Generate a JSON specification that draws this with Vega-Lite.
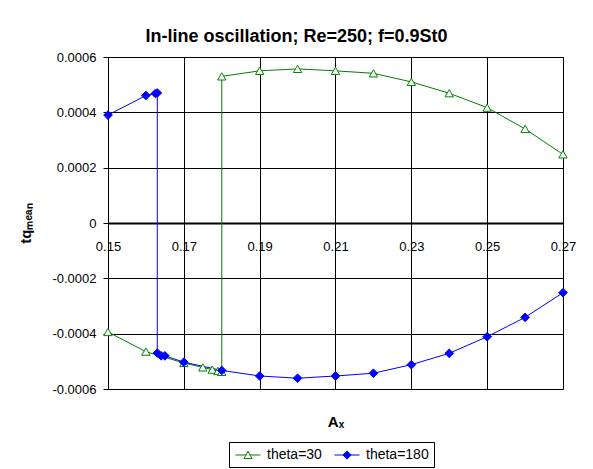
{
  "$schema": "https://vega.github.io/schema/vega-lite/v6.json",
  "width": 455,
  "height": 332,
  "autosize": {"type": "none"},
  "padding": {"left": 108, "top": 57, "right": 30, "bottom": 80},
  "background": "white",
  "title": {
    "text": "In-line oscillation; Re=250; f=0.9St0",
    "font": "Liberation Sans",
    "fontSize": 18,
    "fontWeight": "bold",
    "color": "black",
    "anchor": "middle",
    "baseline": "bottom",
    "offset": -13,
    "dx": -39
  },
  "config": {
    "view": {"stroke": "#808080", "strokeWidth": 1},
    "axis": {
      "labelFont": "Liberation Sans",
      "titleFont": "Liberation Sans",
      "labelColor": "black",
      "titleColor": "black",
      "gridColor": "black",
      "gridOpacity": 1,
      "gridWidth": 1
    }
  },
  "data": {
    "values": [
      {"series": "theta=30", "idx": 0, "Ax": 0.15, "tq": -0.000394},
      {"series": "theta=30", "idx": 1, "Ax": 0.16, "tq": -0.000465},
      {"series": "theta=30", "idx": 2, "Ax": 0.17, "tq": -0.000506},
      {"series": "theta=30", "idx": 3, "Ax": 0.175, "tq": -0.000522},
      {"series": "theta=30", "idx": 4, "Ax": 0.1775, "tq": -0.00053},
      {"series": "theta=30", "idx": 5, "Ax": 0.179, "tq": -0.000535},
      {"series": "theta=30", "idx": 6, "Ax": 0.18, "tq": -0.000538},
      {"series": "theta=30", "idx": 7, "Ax": 0.18, "tq": 0.00053},
      {"series": "theta=30", "idx": 8, "Ax": 0.19, "tq": 0.00055},
      {"series": "theta=30", "idx": 9, "Ax": 0.20, "tq": 0.000557},
      {"series": "theta=30", "idx": 10, "Ax": 0.21, "tq": 0.00055},
      {"series": "theta=30", "idx": 11, "Ax": 0.22, "tq": 0.000541},
      {"series": "theta=30", "idx": 12, "Ax": 0.23, "tq": 0.00051},
      {"series": "theta=30", "idx": 13, "Ax": 0.24, "tq": 0.000469},
      {"series": "theta=30", "idx": 14, "Ax": 0.25, "tq": 0.000417},
      {"series": "theta=30", "idx": 15, "Ax": 0.26, "tq": 0.00034},
      {"series": "theta=30", "idx": 16, "Ax": 0.27, "tq": 0.000248},
      {"series": "theta=180", "idx": 0, "Ax": 0.15, "tq": 0.00039},
      {"series": "theta=180", "idx": 1, "Ax": 0.16, "tq": 0.000461},
      {"series": "theta=180", "idx": 2, "Ax": 0.1625, "tq": 0.000468},
      {"series": "theta=180", "idx": 3, "Ax": 0.163, "tq": 0.00047},
      {"series": "theta=180", "idx": 4, "Ax": 0.163, "tq": -0.00047},
      {"series": "theta=180", "idx": 5, "Ax": 0.164, "tq": -0.00048},
      {"series": "theta=180", "idx": 6, "Ax": 0.165, "tq": -0.00048},
      {"series": "theta=180", "idx": 7, "Ax": 0.17, "tq": -0.000503},
      {"series": "theta=180", "idx": 8, "Ax": 0.18, "tq": -0.000533},
      {"series": "theta=180", "idx": 9, "Ax": 0.19, "tq": -0.000553},
      {"series": "theta=180", "idx": 10, "Ax": 0.20, "tq": -0.000561},
      {"series": "theta=180", "idx": 11, "Ax": 0.21, "tq": -0.000553},
      {"series": "theta=180", "idx": 12, "Ax": 0.22, "tq": -0.000543},
      {"series": "theta=180", "idx": 13, "Ax": 0.23, "tq": -0.000512},
      {"series": "theta=180", "idx": 14, "Ax": 0.24, "tq": -0.000471},
      {"series": "theta=180", "idx": 15, "Ax": 0.25, "tq": -0.000411},
      {"series": "theta=180", "idx": 16, "Ax": 0.26, "tq": -0.000341},
      {"series": "theta=180", "idx": 17, "Ax": 0.27, "tq": -0.000252}
    ]
  },
  "encoding": {
    "x": {
      "field": "Ax",
      "type": "quantitative",
      "scale": {"domain": [0.15, 0.27], "nice": false, "zero": false},
      "axis": {
        "orient": "bottom",
        "offset": -166,
        "values": [0.15, 0.17, 0.19, 0.21, 0.23, 0.25, 0.27],
        "format": ".2f",
        "labelFontSize": 13,
        "labelPadding": 17,
        "labelFlush": false,
        "ticks": false,
        "domainColor": "black",
        "domainWidth": 2,
        "title": "Aₓ",
        "titleFontSize": 15,
        "titleFontWeight": "bold",
        "titlePadding": 161
      }
    },
    "y": {
      "field": "tq",
      "type": "quantitative",
      "scale": {"domain": [-0.0006, 0.0006], "nice": false, "zero": false},
      "axis": {
        "values": [-0.0006, -0.0004, -0.0002, 0, 0.0002, 0.0004, 0.0006],
        "labelExpr": "replace(format(datum.value, '.4~f'), '−', '-')",
        "labelFontSize": 13,
        "labelPadding": 7,
        "tickSize": 5,
        "tickColor": "black",
        "domainColor": "black",
        "title": "tqₘₑₐₙ",
        "titleFontSize": 15,
        "titleFontWeight": "bold",
        "titlePadding": 18
      }
    },
    "stroke": {
      "field": "series",
      "type": "nominal",
      "scale": {"domain": ["theta=30", "theta=180"], "range": ["#008000", "#0000FF"]},
      "legend": {
        "title": null,
        "orient": "none",
        "legendX": 121,
        "legendY": 385,
        "direction": "horizontal",
        "strokeColor": "black",
        "padding": 5,
        "columnPadding": 10,
        "labelOffset": 11,
        "symbolOffset": 6,
        "labelFont": "Liberation Sans",
        "labelFontSize": 14,
        "labelColor": "black",
        "symbolSize": 225,
        "symbolStrokeWidth": 1,
        "encode": {
          "symbols": {
            "update": {
              "shape": {"signal": "datum.value === 'theta=30' ? 'M-1.667,0H-0.25M0.25,0H1.667M0,-0.47L0.533,0.47H-0.533Z' : 'M-1.667,0H1.667M-0.55,0L0,-0.55L0.55,0L0,0.55Z'"},
              "fill": {"signal": "datum.value === 'theta=30' ? 'white' : '#0000FF'"},
              "stroke": {"signal": "datum.value === 'theta=30' ? '#008000' : '#0000FF'"},
              "size": {"value": 225},
              "strokeWidth": {"value": 1},
              "opacity": {"value": 1}
            }
          }
        }
      }
    }
  },
  "layer": [
    {
      "mark": {"type": "line", "strokeWidth": 1},
      "encoding": {
        "detail": {"field": "series"},
        "order": {"field": "idx", "type": "quantitative"}
      }
    },
    {
      "transform": [{"filter": "datum.series === 'theta=30'"}],
      "mark": {"type": "point", "shape": "triangle-up", "fill": "white", "filled": false, "strokeWidth": 1, "opacity": 1, "size": 70}
    },
    {
      "transform": [{"filter": "datum.series === 'theta=180'"}],
      "mark": {"type": "point", "shape": "diamond", "fill": "#0000FF", "filled": false, "strokeWidth": 1, "opacity": 1, "size": 75}
    }
  ]
}
